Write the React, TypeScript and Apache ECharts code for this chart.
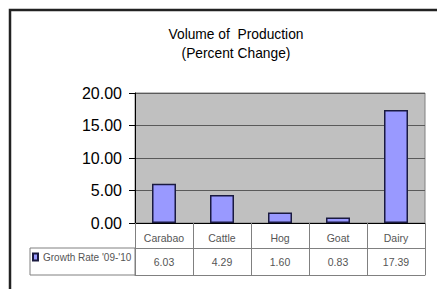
import React, { useEffect, useRef } from "react";
import * as echarts from "echarts";

const categories = ["Carabao", "Cattle", "Hog", "Goat", "Dairy"];
const growthRate = [6.03, 4.29, 1.6, 0.83, 17.39];
const seriesName = "Growth Rate '09-'10";
const titleLines = ["Volume of  Production", "(Percent Change)"];

const FONT = "'Liberation Sans', Arial, sans-serif";

export default function App() {
  const ref = useRef<HTMLDivElement>(null);
  useEffect(() => {
    if (!ref.current) return;
    const chart = echarts.init(ref.current, undefined, { renderer: "svg" });
    const gridLeft = 135;
    const gridTop = 93;
    const gridW = 290;
    const gridH = 130;
    chart.setOption({
      animation: false,
      backgroundColor: "#ffffff",
      textStyle: { fontFamily: FONT },
      grid: {
        left: gridLeft,
        top: gridTop,
        width: gridW,
        height: gridH,
        show: true,
        backgroundColor: "#C0C0C0",
        borderColor: "#808080",
        borderWidth: 1,
      },
      legend: {
        show: true,
        data: [seriesName],
        left: 32,
        top: 252,
        padding: 0,
        itemWidth: 5,
        itemHeight: 7,
        itemGap: 4,
        icon: "rect",
        textStyle: { fontSize: 10, color: "#555", fontFamily: FONT },
      },
      xAxis: [
        {
          type: "category",
          data: categories,
          position: "bottom",
          boundaryGap: true,
          axisLine: { show: true, lineStyle: { color: "#000", width: 1 } },
          axisTick: {
            show: true,
            inside: false,
            length: 52,
            interval: 0,
            lineStyle: { color: "#808080", width: 1 },
          },
          axisLabel: {
            interval: 0,
            margin: 9,
            fontSize: 10.5,
            color: "#555",
            fontFamily: FONT,
          },
          splitLine: { show: false },
        },
        {
          type: "category",
          data: growthRate.map((v) => v.toFixed(2)),
          position: "bottom",
          offset: 25,
          boundaryGap: true,
          axisLine: { show: true, lineStyle: { color: "#808080", width: 1 } },
          axisTick: { show: false },
          axisLabel: {
            interval: 0,
            margin: 8,
            fontSize: 10.5,
            color: "#555",
            fontFamily: FONT,
          },
          splitLine: { show: false },
        },
        {
          type: "category",
          data: categories,
          position: "bottom",
          offset: 52,
          boundaryGap: true,
          axisLine: { show: true, lineStyle: { color: "#808080", width: 1 } },
          axisTick: { show: false },
          axisLabel: { show: false },
          splitLine: { show: false },
        },
      ],
      yAxis: {
        type: "value",
        min: 0,
        max: 20,
        interval: 5,
        axisLine: { show: true, lineStyle: { color: "#000", width: 1 } },
        axisTick: { show: true, length: 6, lineStyle: { color: "#000" } },
        axisLabel: {
          margin: 13,
          fontSize: 16,
          color: "#000",
          fontFamily: FONT,
          formatter: (v: number) => v.toFixed(2),
        },
        splitLine: { show: true, lineStyle: { color: "#5a5a5a", width: 1 } },
      },
      series: [
        {
          name: seriesName,
          type: "bar",
          xAxisIndex: 0,
          data: growthRate,
          barWidth: 24,
          itemStyle: {
            color: "#9999FF",
            borderColor: "#1a1a40",
            borderWidth: 1.5,
          },
        },
      ],
      graphic: [
        {
          type: "rect",
          shape: { x: 10, y: 10, width: 500, height: 400 },
          style: { fill: "none", stroke: "#222", lineWidth: 2.5 },
          silent: true,
        },
        {
          type: "rect",
          shape: { x: 30, y: 248, width: 105, height: 27 },
          style: { fill: "none", stroke: "#808080", lineWidth: 1 },
          silent: true,
        },
        {
          type: "text",
          x: 236,
          y: 34,
          scaleX: 0.92,
          style: {
            text: titleLines[0],
            fontSize: 15,
            fontFamily: FONT,
            fill: "#000",
            align: "center",
            verticalAlign: "middle",
          },
        },
        {
          type: "text",
          x: 236,
          y: 53,
          scaleX: 0.92,
          style: {
            text: titleLines[1],
            fontSize: 15,
            fontFamily: FONT,
            fill: "#000",
            align: "center",
            verticalAlign: "middle",
          },
        },
      ],
    });
    return () => chart.dispose();
  }, []);
  return (
    <div
      ref={ref}
      style={{ position: "fixed", left: 0, top: 0, width: 437, height: 289, background: "#fff" }}
    />
  );
}
